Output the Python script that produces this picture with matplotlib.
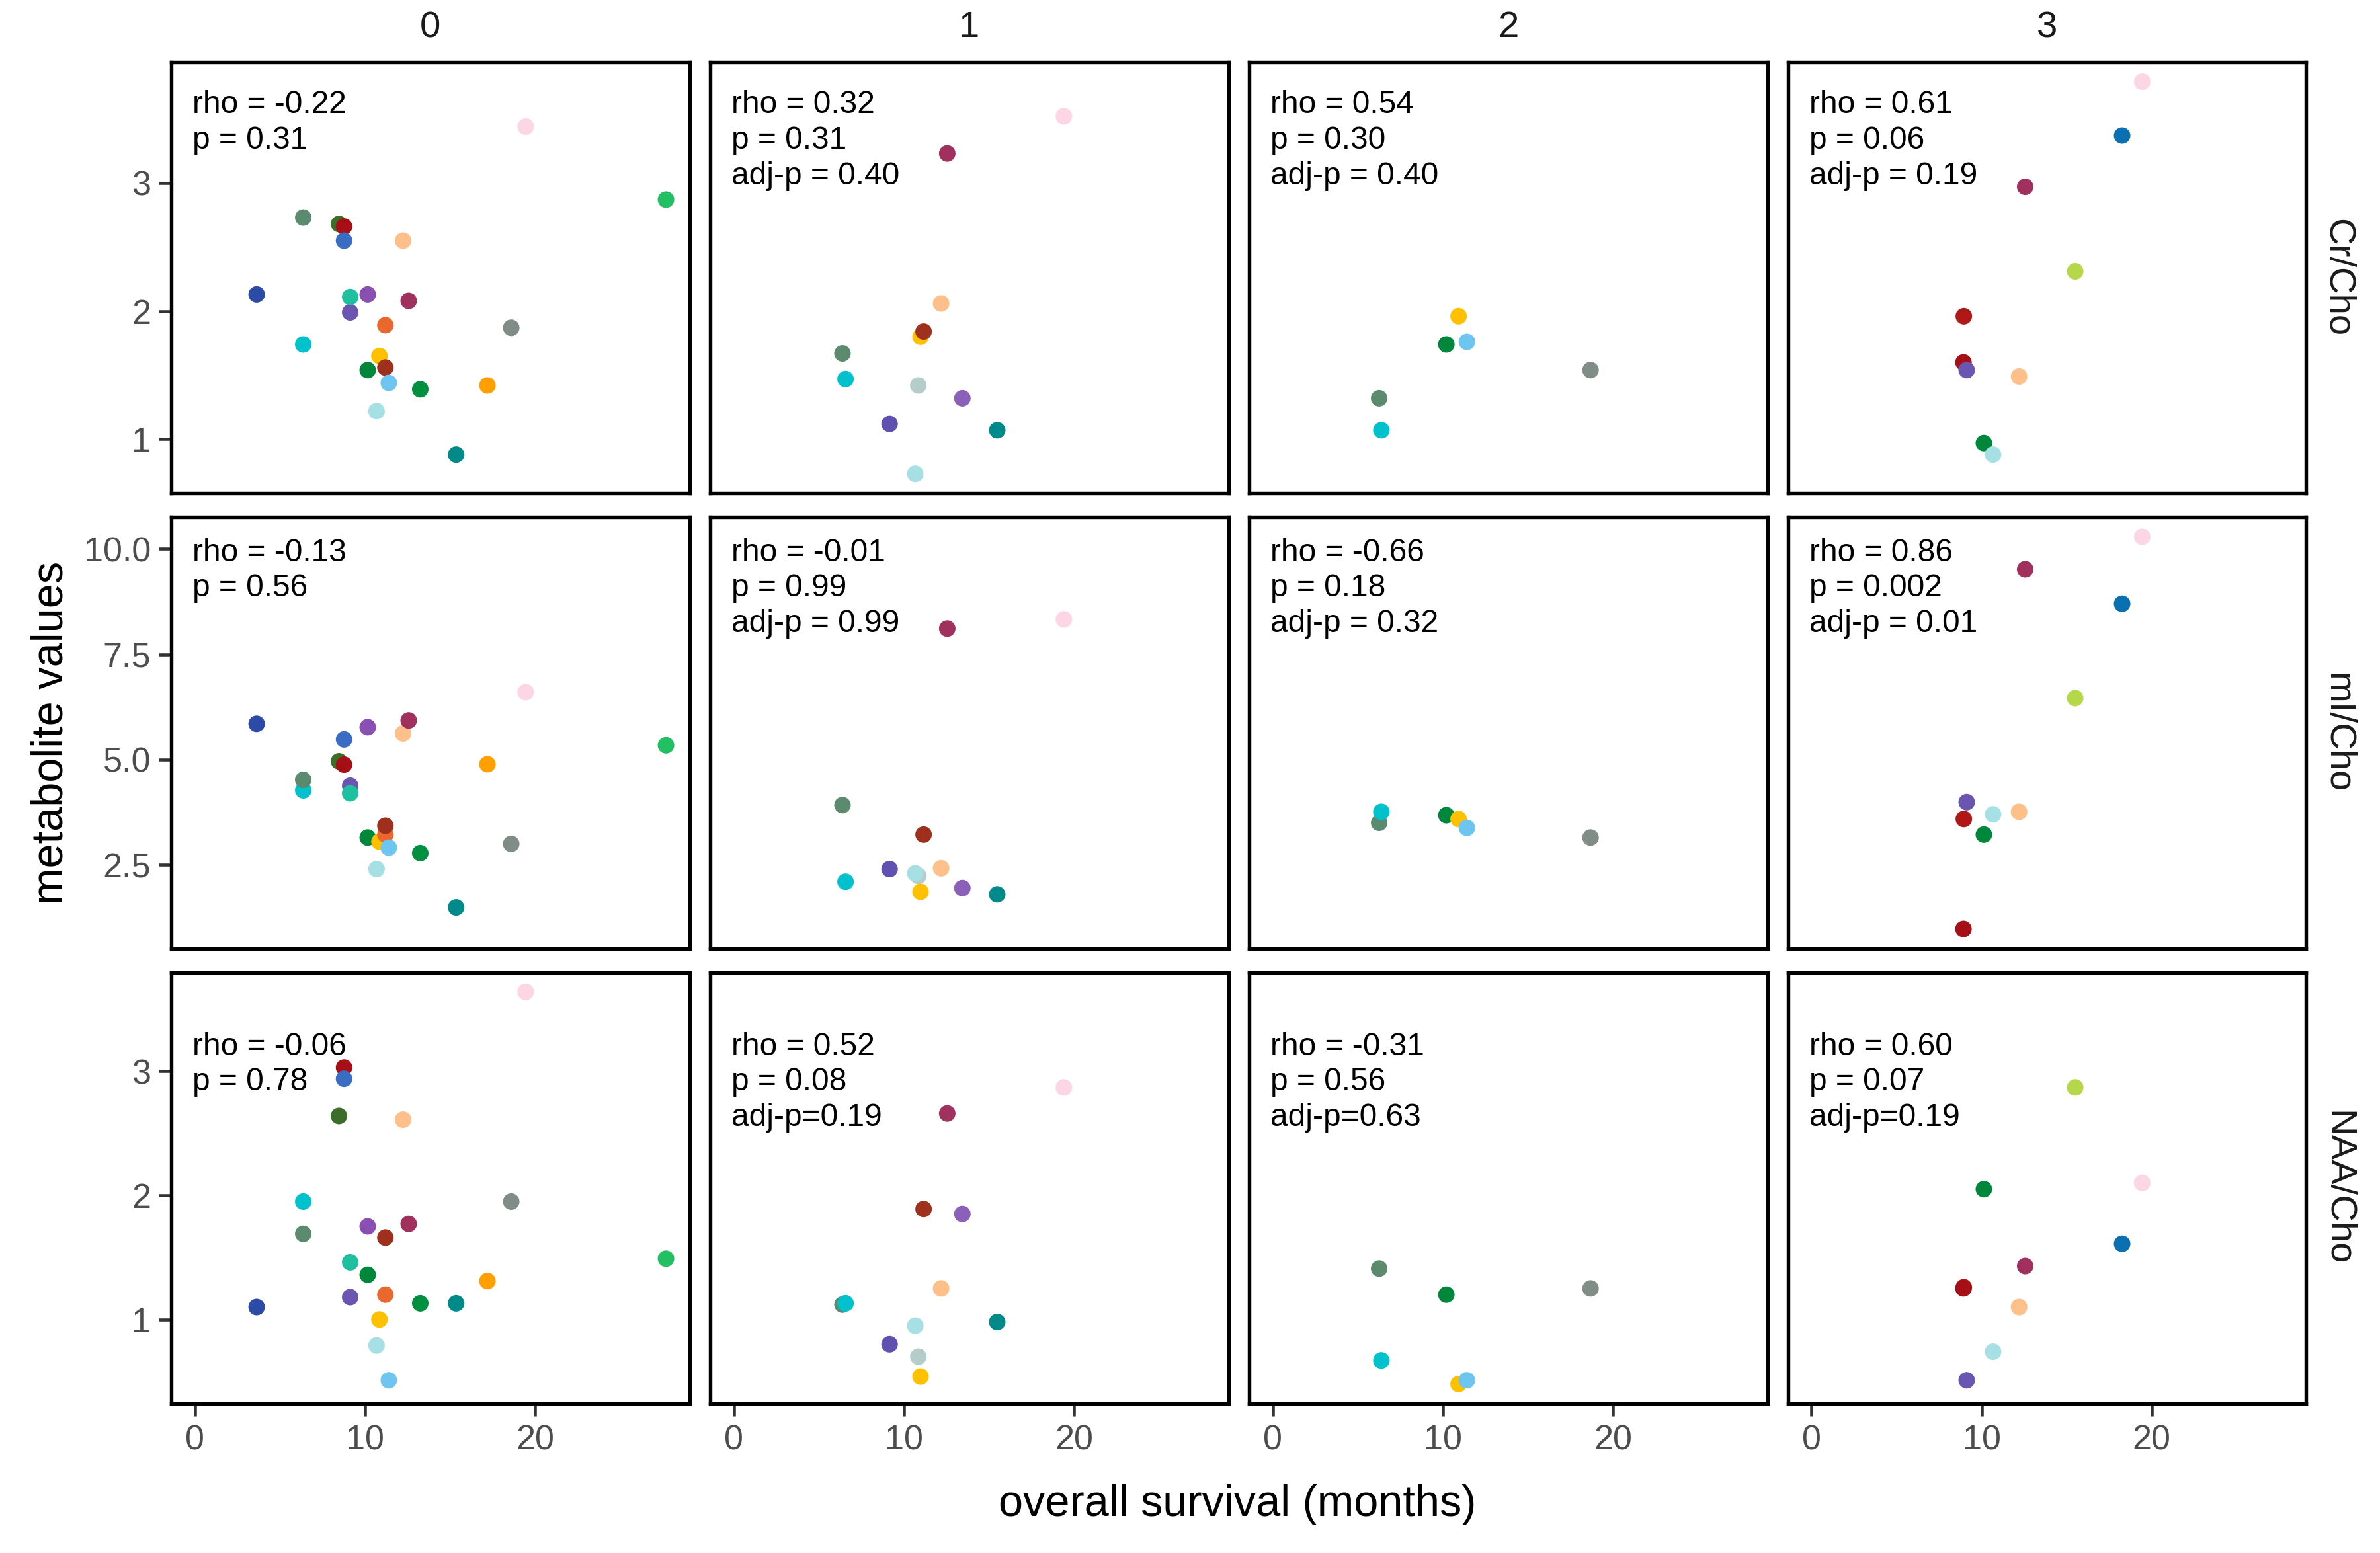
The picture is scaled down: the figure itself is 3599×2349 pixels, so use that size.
import matplotlib.pyplot as plt
import numpy as np

plt.rcParams['font.family'] = ['Liberation Sans', 'DejaVu Sans']

groups = ['0', '1', '2', '3']
metabolites = ['Cr/Cho', 'mI/Cho', 'NAA/Cho']

# group 0 (23 patients)
g0_os = [3.63, 6.37, 6.37, 8.47, 8.77, 8.77, 9.13, 9.13, 10.16, 10.16, 10.85, 10.68,
         11.2, 11.2, 11.4, 12.24, 12.57, 13.25, 15.36, 17.2, 18.6, 19.45, 27.7]
g0_cr = [2.13, 1.74, 2.73, 2.68, 2.66, 2.55, 1.99, 2.11, 2.13, 1.54, 1.65, 1.22,
         1.89, 1.56, 1.44, 2.55, 2.08, 1.39, 0.88, 1.42, 1.87, 3.44, 2.87]
g0_mi = [5.85, 4.27, 4.52, 4.96, 4.88, 5.48, 4.38, 4.20, 5.77, 3.15, 3.05, 2.40,
         3.22, 3.43, 2.91, 5.62, 5.93, 2.78, 1.49, 4.89, 3.00, 6.60, 5.34]
g0_naa = [1.10, 1.95, 1.69, 2.64, 3.03, 2.94, 1.18, 1.46, 1.75, 1.36, 1.00, 0.79,
          1.20, 1.66, 0.51, 2.61, 1.77, 1.13, 1.13, 1.31, 1.95, 3.64, 1.49]
g0_col = ['#2B4BA6', '#00C1CC', '#5B8A6E', '#3C6E2A', '#A50F15', '#3A6CC4',
          '#6A55B0', '#1EC0A0', '#8A4FB2', '#00873C', '#FFC000', '#A6E0E4',
          '#E8682E', '#A0301E', '#6EC6F0', '#FDC08A', '#A0305E', '#009040',
          '#008A8A', '#FFA000', '#808C86', '#FDD6E6', '#22C062']

# group 1 (12 patients)
g1_os = [6.39, 6.57, 9.16, 10.85, 10.67, 10.98, 11.16, 12.19, 12.55, 13.44, 15.49, 19.41]
g1_cr = [1.67, 1.47, 1.12, 1.42, 0.73, 1.80, 1.84, 2.06, 3.23, 1.32, 1.07, 3.52]
g1_mi = [3.92, 2.10, 2.40, 2.24, 2.30, 1.86, 3.22, 2.42, 8.11, 1.95, 1.80, 8.33]
g1_naa = [1.12, 1.13, 0.80, 0.70, 0.95, 0.54, 1.89, 1.25, 2.66, 1.85, 0.98, 2.87]
g1_col = ['#5B8A6E', '#00C1CC', '#6050B0', '#B4CCCA', '#A6E0E4', '#FFC000',
          '#A0301E', '#FDC08A', '#A0305E', '#8A60B8', '#008A8A', '#FDD6E6']

# group 2 (6 patients)
g2_os = [6.26, 6.39, 10.21, 10.93, 11.42, 18.69]
g2_cr = [1.32, 1.07, 1.74, 1.96, 1.76, 1.54]
g2_mi = [3.50, 3.76, 3.68, 3.59, 3.38, 3.15]
g2_naa = [1.41, 0.67, 1.20, 0.48, 0.51, 1.25]
g2_col = ['#5B8A6E', '#00C1CC', '#00873C', '#FFC000', '#6EC6F0', '#808C86']

# group 3 (10 patients)
g3_os = [8.95, 8.93, 9.12, 10.13, 10.67, 12.20, 12.56, 15.5, 18.26, 19.44]
g3_cr = [1.96, 1.60, 1.54, 0.97, 0.88, 1.49, 2.97, 2.31, 3.37, 3.79]
g3_mi = [3.59, 0.98, 3.99, 3.22, 3.70, 3.76, 9.52, 6.46, 8.70, 10.29]
g3_naa = [1.26, 1.25, 0.51, 2.05, 0.74, 1.10, 1.43, 2.87, 1.61, 2.10]
g3_col = ['#B01818', '#A50F15', '#6A55B0', '#00873C', '#A6E0E4', '#FDC08A',
          '#A0305E', '#B4D84A', '#0A70B0', '#FDD6E6']

stats_cr = ['rho = -0.22\np = 0.31', 'rho = 0.32\np = 0.31\nadj-p = 0.40',
            'rho = 0.54\np = 0.30\nadj-p = 0.40', 'rho = 0.61\np = 0.06\nadj-p = 0.19']
stats_mi = ['rho = -0.13\np = 0.56', 'rho = -0.01\np = 0.99\nadj-p = 0.99',
            'rho = -0.66\np = 0.18\nadj-p = 0.32', 'rho = 0.86\np = 0.002\nadj-p = 0.01']
stats_naa = ['rho = -0.06\np = 0.78', 'rho = 0.52\np = 0.08\nadj-p=0.19',
             'rho = -0.31\np = 0.56\nadj-p=0.63', 'rho = 0.60\np = 0.07\nadj-p=0.19']

yticks = [[1, 2, 3], [2.5, 5.0, 7.5, 10.0], [1, 2, 3]]
ytick_labels = [['1', '2', '3'], ['2.5', '5.0', '7.5', '10.0'], ['1', '2', '3']]
xticks = [0, 10, 20]

os_all = [g0_os, g1_os, g2_os, g3_os]
cols_all = [g0_col, g1_col, g2_col, g3_col]
vals = [[g0_cr, g1_cr, g2_cr, g3_cr],
        [g0_mi, g1_mi, g2_mi, g3_mi],
        [g0_naa, g1_naa, g2_naa, g3_naa]]
stats = [stats_cr, stats_mi, stats_naa]
text_y = [0.935, 0.952, 0.862]

fig, axes = plt.subplots(3, 4, figsize=(3599 / 300, 2349 / 300), dpi=300)
fig.subplots_adjust(left=0.072, right=0.969, top=0.960, bottom=0.0962,
                    wspace=0.04, hspace=0.055)

xmax = max(max(o) for o in os_all)
xlim = (-0.05 * xmax, 1.05 * xmax)

for r in range(3):
    allv = np.concatenate([np.array(v) for v in vals[r]])
    lo, hi = allv.min(), allv.max()
    pad = 0.05 * (hi - lo)
    for c in range(4):
        ax = axes[r, c]
        ax.scatter(os_all[c], vals[r][c], s=36, c=cols_all[c], linewidths=0, zorder=3)
        ax.set_xlim(xlim)
        ax.set_ylim(lo - pad, hi + pad)
        ax.set_xticks(xticks)
        ax.set_yticks(yticks[r])
        ax.text(0.041, text_y[r], stats[r][c], transform=ax.transAxes, ha='left',
                va='top', fontsize=11.5, linespacing=1.25, color='black')
        for s in ax.spines.values():
            s.set_linewidth(1.3)
            s.set_color('black')
        ax.tick_params(length=4.5, width=1.1, color='#333333', labelsize=12.5,
                       labelcolor='#4D4D4D', pad=3)
        if c == 0:
            ax.set_yticklabels(ytick_labels[r])
        else:
            ax.tick_params(axis='y', left=False, labelleft=False)
        if r == 2:
            ax.set_xticklabels([str(t) for t in xticks])
        else:
            ax.tick_params(axis='x', bottom=False, labelbottom=False)
        if r == 0:
            ax.set_title(groups[c], fontsize=13.5, color='#1A1A1A', pad=9)
        if c == 3:
            ax.text(1.06, 0.5, metabolites[r], transform=ax.transAxes, rotation=-90,
                    ha='center', va='center', fontsize=13.5, color='#1A1A1A')

fig.text(0.0215, 0.528, 'metabolite values', rotation=90, ha='center', va='center',
         fontsize=16)
fig.text(0.52, 0.031, 'overall survival (months)', ha='center', va='center', fontsize=16)

fig.savefig('out.png', dpi=300, facecolor='white')
